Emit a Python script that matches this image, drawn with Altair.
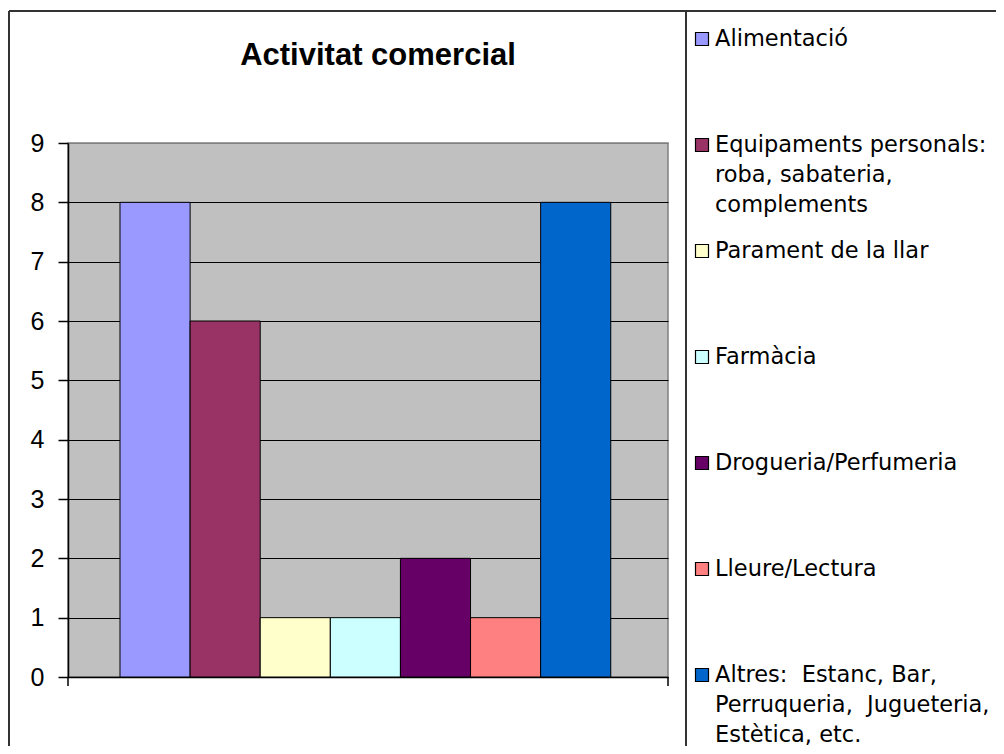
import altair as alt
import pandas as pd

# ---- data ----
categories = [
    "Alimentació",
    "Equipaments personals:\nroba, sabateria,\ncomplements",
    "Parament de la llar",
    "Farmàcia",
    "Drogueria/Perfumeria",
    "Lleure/Lectura",
    "Altres: \u00a0Estanc, Bar,\nPerruqueria, \u00a0Jugueteria,\nEstètica, etc.",
]
values = [8, 6, 1, 1, 2, 1, 8]
colors = ["#9999FF", "#993366", "#FFFFCC", "#CCFFFF", "#660066", "#FF8080", "#0066CC"]
y_ticks = [0, 1, 2, 3, 4, 5, 6, 7, 8, 9]
title_text = "Activitat comercial"

df = pd.DataFrame({"cat": categories, "val": values})
one = pd.DataFrame({"t": [title_text]})

W, H = 600, 534
FONT = "Liberation Sans"

color = alt.Color("cat:N", scale=alt.Scale(domain=categories, range=colors), legend=None)

bars = alt.Chart(df).mark_bar(stroke="black", strokeWidth=1).encode(
    x=alt.X(
        "cat:N",
        sort=categories,
        scale=alt.Scale(paddingInner=0, paddingOuter=0.779, align=0.476),
        axis=alt.Axis(title=None, labels=False, ticks=False, grid=False,
                      domainColor="black", domainWidth=1.5),
    ),
    y=alt.Y(
        "val:Q",
        scale=alt.Scale(domain=[0, 9], nice=False, zero=True),
        axis=alt.Axis(
            title=None, values=y_ticks, format="d",
            tickSize=10, tickColor="black", tickWidth=1.5,
            domainColor="black", domainWidth=1.5,
            labelFont=FONT, labelFontSize=25, labelColor="black", labelPadding=14,
            grid=True,
            gridColor=alt.condition("datum.value == 9", alt.value("#808080"), alt.value("black")),
            gridWidth=1.2, gridOpacity=1,
        ),
    ),
    color=color,
)

leg_y = alt.Y(
    "cat:N",
    sort=categories,
    scale=alt.Scale(type="point", domain=categories, range=[-104, 532], padding=0),
    axis=None,
)

squares = alt.Chart(df).mark_square(size=169, stroke="black", strokeWidth=1.2, opacity=1).encode(
    x=alt.value(634), y=leg_y, color=color
)

labels = alt.Chart(df).mark_text(
    align="left", baseline="line-top", lineBreak="\n", lineHeight=30, dy=-15,
    fontSize=22.5, font="DejaVu Sans", color="black",
).encode(x=alt.value(647), y=leg_y, text="cat:N")

title = alt.Chart(one).mark_text(
    fontSize=31, fontWeight="bold", font=FONT, color="black", align="center", baseline="middle"
).encode(x=alt.value(310), y=alt.value(-87), text="t:N")

base_rule = alt.Chart(pd.DataFrame({"k": [0]}))
border_top = base_rule.mark_rule(color="#333333", strokeWidth=2).encode(
    x=alt.value(-59), x2=alt.value(930), y=alt.value(-132)
)
border_left = base_rule.mark_rule(color="#333333", strokeWidth=2).encode(
    x=alt.value(-59), y=alt.value(-132), y2=alt.value(610)
)
divider = base_rule.mark_rule(color="#333333", strokeWidth=2).encode(
    x=alt.value(618), y=alt.value(-132), y2=alt.value(610)
)
tick_l = base_rule.mark_rule(color="black", strokeWidth=1.5).encode(
    x=alt.value(0), y=alt.value(H), y2=alt.value(H + 9)
)
tick_r = base_rule.mark_rule(color="black", strokeWidth=1.5).encode(
    x=alt.value(W), y=alt.value(H), y2=alt.value(H + 9)
)

chart = (
    alt.layer(bars, squares, labels, title, border_top, border_left, divider, tick_l, tick_r)
    .resolve_scale(y="independent")
    .properties(
        width=W, height=H,
        autosize=alt.AutoSizeParams(type="none"),
        padding={"left": 60, "top": 135, "right": 328, "bottom": 69},
        background="white",
    )
    .configure_view(fill="#C0C0C0", stroke="#808080", strokeWidth=1.5)
)

chart.save("out.html", embed_options={"renderer": "svg", "actions": False})
